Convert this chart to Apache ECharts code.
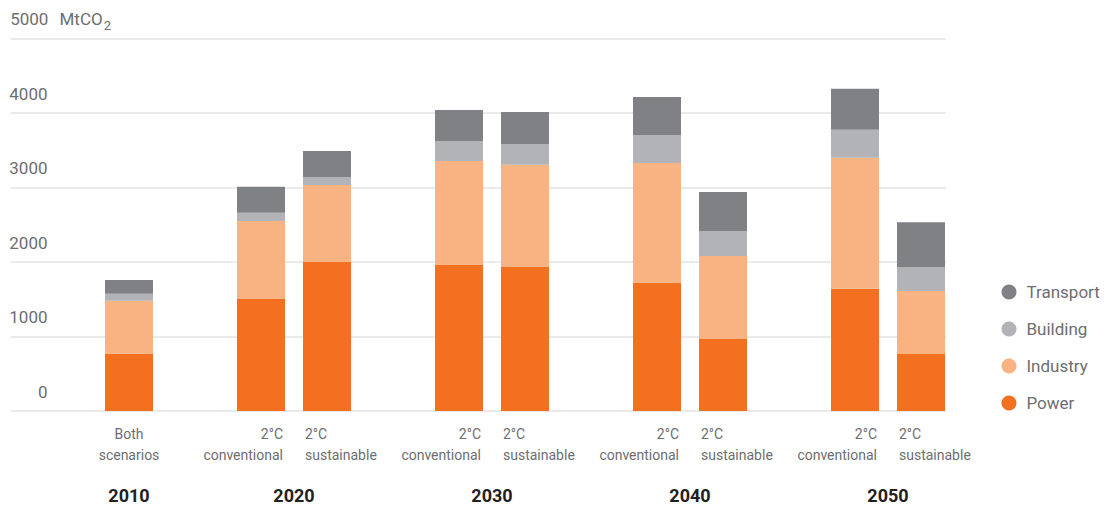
<!DOCTYPE html>
<html>
<head>
<meta charset="utf-8">
<script src="https://cdn.jsdelivr.net/npm/echarts@6/dist/echarts.min.js"></script>
<style>
html,body{margin:0;padding:0;background:#fff;}
#chart{width:1107px;height:508px;}
</style>
</head>
<body>
<div id="chart"></div>
<script>
// ---- data ----
const slots = ['2010', 'gap1', '2020c', '2020s', 'gap2', '2030c', '2030s', 'gap3', '2040c', '2040s', 'gap4', '2050c', '2050s'];
const barSlots = [0, 2, 3, 5, 6, 8, 9, 11, 12];
const scenarioLabels = ['Both\nscenarios', '2°C\nconventional', '2°C\nsustainable', '2°C\nconventional', '2°C\nsustainable', '2°C\nconventional', '2°C\nsustainable', '2°C\nconventional', '2°C\nsustainable'];
const scenarioKinds = ['both', 'conv', 'sust', 'conv', 'sust', 'conv', 'sust', 'conv', 'sust'];
const years = ['2010', '2020', '2030', '2040', '2050'];
const yearPositions = [0, 2.5, 5.5, 8.5, 11.5];
const seriesNames = ['Power', 'Industry', 'Building', 'Transport'];
const power     = [770, 1505, 2000, 1965, 1940, 1720, 965, 1640, 765];
const industry  = [710, 1045, 1035, 1390, 1365, 1610, 1115, 1760, 845];
const building  = [95, 110, 105, 270, 280, 375, 335, 375, 320];
const transport = [185, 350, 350, 415, 430, 510, 525, 550, 605];
const yTicks = [0, 1000, 2000, 3000, 4000, 5000];
const yUnit = 'MtCO';

const colors = ['#f37021', '#f9b382', '#b1b3b6', '#808184'];
const FONT = "Roboto, 'Noto Sans', sans-serif";
const GREY = '#6d6e71';

function padToSlots(vals) {
  const out = slots.map(() => null);
  barSlots.forEach((s, i) => { out[s] = vals[i]; });
  return out;
}

// label sub-slots (3 per slot)
const subCats = [];
const subItems = [];
for (let s = 0; s < slots.length; s++) {
  for (let p = 0; p < 3; p++) {
    const key = 's' + s + '_' + p;
    subCats.push(key);
    subItems.push({ value: key });
  }
}
const subLabelText = {};
barSlots.forEach((s, i) => {
  const kind = scenarioKinds[i];
  let p = 1, align = 'center';
  if (kind === 'conv') { p = 2; align = 'right'; }
  if (kind === 'sust') { p = 0; align = 'left'; }
  const idx = s * 3 + p;
  subLabelText[subCats[idx]] = scenarioLabels[i];
  subItems[idx] = { value: subCats[idx], textStyle: { align: align } };
});

const seriesData = [power, industry, building, transport];

const chart = echarts.init(document.getElementById('chart'), null, { renderer: 'svg' });
chart.setOption({
  animation: false,
  backgroundColor: '#ffffff',
  textStyle: { fontFamily: FONT },
  grid: [
    { left: 11, right: 161, top: 38.5, bottom: 97, containLabel: false },
    { left: 96, right: 153, top: 38.5, bottom: 97, containLabel: false }
  ],
  legend: {
    orient: 'vertical',
    left: 996.5,
    top: 278.5,
    itemWidth: 25,
    itemHeight: 15,
    itemGap: 20,
    icon: 'circle',
    data: seriesNames.slice().reverse(),
    textStyle: { fontSize: 17, color: GREY, fontFamily: FONT }
  },
  xAxis: [
    { gridIndex: 0, type: 'value', min: 0, max: 1, show: false },
    { gridIndex: 1, type: 'category', data: slots, show: false },
    {
      gridIndex: 1, type: 'category', data: subItems, position: 'bottom',
      axisLine: { show: false }, axisTick: { show: false },
      axisLabel: {
        interval: 0, margin: 12, fontSize: 14, lineHeight: 21, color: GREY,
        fontFamily: FONT, verticalAlign: 'top',
        formatter: v => subLabelText[v] || ''
      }
    },
    {
      gridIndex: 1, type: 'value', min: -0.5, max: 12.5, interval: 0.5, position: 'bottom',
      axisLine: { show: false }, axisTick: { show: false }, splitLine: { show: false },
      axisLabel: {
        margin: 74, fontSize: 18, fontWeight: 'bold', color: '#231f20', fontFamily: FONT,
        verticalAlign: 'top', lineHeight: 20,
        formatter: v => {
          for (let i = 0; i < yearPositions.length; i++) {
            if (Math.abs(v - yearPositions[i]) < 1e-6) return years[i];
          }
          return '';
        }
      }
    }
  ],
  yAxis: [
    {
      gridIndex: 0, type: 'value', min: yTicks[0], max: yTicks[yTicks.length - 1],
      interval: yTicks[1] - yTicks[0],
      axisLine: { show: false }, axisTick: { show: false },
      splitLine: { show: true, lineStyle: { color: '#e3e3e3', width: 1.5 } },
      axisLabel: {
        inside: true, margin: 0, align: 'left', verticalAlign: 'bottom',
        padding: [0, 0, 7, 0],
        formatter: v => v === yTicks[yTicks.length - 1]
          ? '{n|' + v + '}{u|' + yUnit + '}{s|2}'
          : '{n|' + v + '}',
        rich: {
          n: { width: 36.5, align: 'right', fontSize: 17, lineHeight: 20, color: GREY, fontFamily: FONT, verticalAlign: 'bottom', padding: [0, 0, 4, 0] },
          u: { fontSize: 17, lineHeight: 20, color: GREY, fontFamily: FONT, verticalAlign: 'bottom', padding: [0, 0, 4, 12] },
          s: { fontSize: 13, lineHeight: 17, color: GREY, fontFamily: FONT, verticalAlign: 'bottom', padding: [0, 0, 0, 1] }
        }
      }
    },
    { gridIndex: 1, type: 'value', min: 0, max: 5000, show: false }
  ],
  series: seriesNames.map((name, i) => ({
    name: name,
    type: 'bar',
    stack: 'total',
    xAxisIndex: 1,
    yAxisIndex: 1,
    barWidth: 48,
    itemStyle: { color: colors[i] },
    emphasis: { disabled: true },
    data: padToSlots(seriesData[i])
  }))
});
</script>
</body>
</html>
